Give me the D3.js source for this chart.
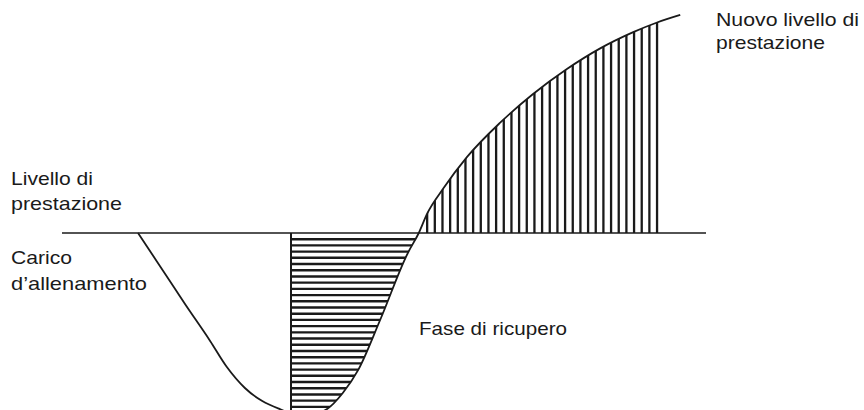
<!DOCTYPE html>
<html><head><meta charset="utf-8">
<script src="https://cdn.jsdelivr.net/npm/d3@7"></script>
<style>html,body{margin:0;padding:0;background:#fff}svg{display:block}</style>
</head><body>
<script>
// Curve: time (arbitrary units) vs performance level relative to the initial level
const time  = [11.8, 15.2, 19.1, 23.0, 25.6, 28.4, 31.1, 33.9, 35.9, 37.7, 39.8, 41.1, 43.6, 46.0, 49.4, 53.7, 55.4, 56.7, 59.2, 62.9, 68.0, 73.1, 78.4, 83.5, 88.7, 92.4, 96.0];
const level = [0, -18.4, -39.7, -60.3, -74.9, -86.6, -93.9, -98.5, -101, -101.5, -100.5, -98.5, -89.4, -76.5, -48.6, -11.2, 0, 10.8, 24.8, 42.5, 61.5, 77.5, 91.6, 103.0, 112.2, 117.6, 121.8];
const baselineRange = [0, 100];
const recoveryRange = [35.56, 55.4];     // horizontally hatched phase (below level)
const gainRange = [56.7, 92.4];          // vertically hatched phase (above level)
const labelsLeftTop = ["Livello di", "prestazione"];
const labelsLeftBottom = ["Carico", "d\u2019allenamento"];
const labelsRight = ["Nuovo livello di", "prestazione"];
const labelRecovery = "Fase di ricupero";

const W = 864, H = 410;
const data = time.map((t, i) => ({t, v: level[i]}));

const x = d3.scaleLinear().domain([0, 100]).range([62, 706]);
const y = d3.scaleLinear().domain([0, 100]).range([233, 54]);

const svg = d3.select("body").append("svg").attr("width", W).attr("height", H)
  .style("background", "#fff");

const ink = "#1a1a1a";
const curve = d3.curveMonotoneX;

const area = d3.area().x(d => x(d.t)).y0(y(0)).y1(d => y(d.v)).curve(curve);
svg.append("clipPath").attr("id", "lobe").append("path").attr("d", area(data));

// Horizontal hatch (recovery phase below baseline)
const hLevels = d3.range(-3.45, -106, -3.47);
const gH = svg.append("g").attr("clip-path", "url(#lobe)");
gH.selectAll("line").data(hLevels).join("line")
  .attr("x1", x(recoveryRange[0])).attr("x2", x(recoveryRange[1]))
  .attr("y1", d => y(d)).attr("y2", d => y(d))
  .attr("stroke", ink).attr("stroke-width", 2.4);

// Vertical hatch (supercompensation above baseline)
const vTimes = d3.range(gainRange[0], gainRange[1] + 0.01, (gainRange[1] - gainRange[0]) / 30);
const gV = svg.append("g").attr("clip-path", "url(#lobe)");
gV.selectAll("line").data(vTimes).join("line")
  .attr("x1", d => x(d)).attr("x2", d => x(d))
  .attr("y1", y(0)).attr("y2", y(130))
  .attr("stroke", ink).attr("stroke-width", 2.3);

// Left edge of recovery hatch
svg.append("line")
  .attr("x1", x(recoveryRange[0])).attr("x2", x(recoveryRange[0]))
  .attr("y1", y(0)).attr("y2", y(-110))
  .attr("stroke", ink).attr("stroke-width", 2);

// Baseline (performance level)
svg.append("line")
  .attr("x1", x(baselineRange[0])).attr("x2", x(baselineRange[1]))
  .attr("y1", y(0)).attr("y2", y(0))
  .attr("stroke", ink).attr("stroke-width", 1.7);

// Curve
const line = d3.line().x(d => x(d.t)).y(d => y(d.v)).curve(curve);
svg.append("path").attr("d", line(data))
  .attr("fill", "none").attr("stroke", ink).attr("stroke-width", 1.8);

// Labels
function label(lines, px, baselines, widths) {
  lines.forEach((s, i) => {
    svg.append("text").attr("x", px).attr("y", baselines[i])
      .attr("font-family", "'Liberation Sans', Arial, sans-serif")
      .attr("font-size", 19).attr("fill", ink)
      .attr("textLength", widths[i]).attr("lengthAdjust", "spacingAndGlyphs")
      .text(s);
  });
}
label(labelsRight, 716, [26, 49], [143, 109]);
label(labelsLeftTop, 11, [185, 210], [82, 111]);
label(labelsLeftBottom, 11, [264, 290], [61, 136]);
label([labelRecovery], 419, [335], [148]);
</script>
</body></html>
